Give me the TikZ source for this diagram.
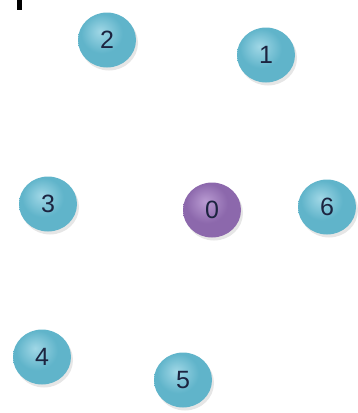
\documentclass[tikz,border=0pt]{standalone}
\usepackage{fontspec}
\setmainfont{Liberation Sans}
\usetikzlibrary{shadows,shapes.geometric}
\definecolor{tealhi}{RGB}{160,215,230}
\definecolor{tealball}{RGB}{96,180,202}
\definecolor{tealdark}{RGB}{40,115,140}
\definecolor{purphi}{RGB}{185,155,210}
\definecolor{purpball}{RGB}{140,104,172}
\definecolor{purpdark}{RGB}{80,52,112}
\definecolor{numcol}{RGB}{28,36,64}
\pgfdeclareradialshading{tealshade}{\pgfpoint{-6bp}{8bp}}{color(0bp)=(tealhi); color(18bp)=(tealball); color(38bp)=(tealball); color(52bp)=(tealdark); color(70bp)=(tealdark)}
\pgfdeclareradialshading{purpshade}{\pgfpoint{-6bp}{8bp}}{color(0bp)=(purphi); color(18bp)=(purpball); color(38bp)=(purpball); color(52bp)=(purpdark); color(70bp)=(purpdark)}
\tikzset{
  ballnode/.style={ellipse, minimum width=58pt, minimum height=55pt, inner sep=0pt,
    text=numcol, font=\fontsize{25}{25}\selectfont,
    drop shadow={shadow xshift=2pt, shadow yshift=-3pt, opacity=0.2},
    shading=tealshade},
  purpnode/.style={ballnode, shading=purpshade},
}
\begin{document}
\begin{tikzpicture}[x=1pt,y=-1pt]
\useasboundingbox (0,0) rectangle (357,413);
\fill[black] (17,0) rectangle (22,10);
\node[ballnode] (n2) at (107,40) {2};
\node[ballnode] (n1) at (266,55) {1};
\node[ballnode] (n3) at (48,204) {3};
\node[purpnode] (n0) at (212,210) {0};
\node[ballnode] (n6) at (327,207) {6};
\node[ballnode] (n4) at (42,357) {4};
\node[ballnode] (n5) at (183,380) {5};
\end{tikzpicture}
\end{document}
